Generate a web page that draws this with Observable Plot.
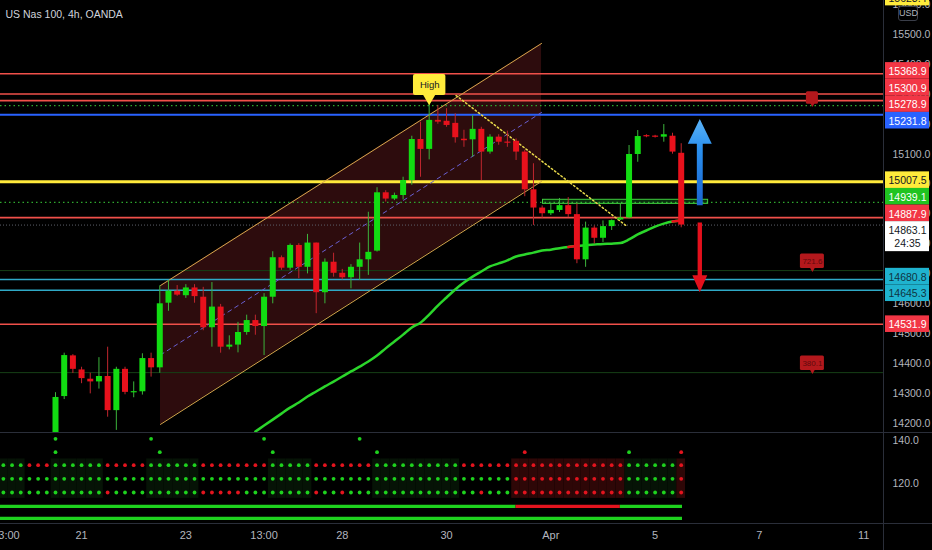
<!DOCTYPE html>
<html><head><meta charset="utf-8">
<script src="https://cdn.jsdelivr.net/npm/d3@7"></script>
<script src="https://cdn.jsdelivr.net/npm/@observablehq/plot@0.6"></script>
<style>
html,body{margin:0;padding:0;background:#000;}
#chart{position:relative;width:932px;height:550px;background:#000;overflow:hidden;}
#chart svg{position:absolute;display:block;max-width:none;}
.sep{position:absolute;background:#2a2e39;}
#usd{position:absolute;left:898px;top:6px;width:18px;height:13px;border:1px solid #3a3e49;border-radius:3px;color:#b2b5be;font:9px 'Liberation Sans',Arial,sans-serif;line-height:13px;text-align:center;background:#000;}
</style></head><body>
<div id="chart"></div>
<script>
// ---------------- data ----------------
const title = "US Nas 100, 4h, OANDA";
const opens = [14150,14290,14426,14379,14348,14339,14357,14243,14381,14303,
  14306,14417,14386,14602,14642,14627,14653,14622,14520,14589,
  14455,14462,14504,14544,14524,14622,14754,14719,14795,14722,
  14803,14637,14739,14702,14687,14722,14747,14776,14971,14950,
  14962,15012,15149,15116,15213,15210,15203,15150,15148,15183,
  15107,15157,15140,15143,15107,14981,14920,14901,14912,14928,
  14898,14747,14853,14819,14858,14880,14887,15099,15162,15160,
  15157,15160,15103];
const highs = [14303,14435,14430,14388,14368,14420,14455,14388,14388,14339,
  14433,14435,14660,14678,14661,14664,14664,14655,14671,14598,
  14493,14538,14562,14562,14634,14774,14760,14800,14801,14832,
  14803,14750,14769,14715,14731,14803,14906,14988,14978,14970,
  15023,15160,15207,15268,15263,15252,15235,15180,15229,15190,
  15165,15165,15177,15151,15113,15068,14927,14935,14952,14955,
  14934,14873,14860,14877,14880,14934,15129,15179,15165,15163,
  15199,15170,15135];
const lows = [14130,14280,14367,14333,14299,14315,14221,14177,14296,14286,
  14295,14355,14368,14575,14625,14618,14602,14510,14455,14435,
  14446,14436,14495,14495,14427,14600,14712,14712,14684,14700,
  14567,14600,14689,14680,14650,14678,14695,14773,14940,14945,
  14947,14996,15023,15081,15200,15190,15137,15123,15090,15012,
  15100,15130,15123,15079,14958,14862,14886,14895,14905,14888,
  14734,14722,14800,14805,14845,14878,14884,15073,15155,15154,
  15140,15100,14854];
const closes = [14287,14427,14381,14350,14339,14357,14243,14381,14304,14306,
  14417,14386,14600,14642,14629,14653,14624,14520,14589,14455,
  14462,14504,14544,14524,14622,14754,14719,14795,14722,14803,
  14637,14739,14702,14687,14722,14747,14772,14971,14950,14962,
  15012,15149,15116,15213,15207,15196,15155,15145,15183,15107,
  15157,15140,15137,15107,14981,14920,14901,14912,14928,14898,
  14747,14853,14819,14858,14878,14887,15099,15159,15158,15157,
  15165,15107,14863.1];

const maStart = 23;
const maValues = [14173,14193,14213,14233,14253,14270,14290,14307,14324,14340,
  14357,14374,14390,14407,14427,14451,14474,14497,14521,14537,
  14564,14594,14621,14648,14671,14691,14708,14725,14735,14745,
  14758,14765,14771,14778,14781,14786,14790,14793,14796,14798,
  14800,14801,14803,14815,14832,14845,14858,14868,14875,14878];
const maRedFrom = [59, 71];

const levelPrices = [15368.9,15300.9,15278.9,15262,15231.8,15007.5,14939.1,14887.9,14863.1,14711,14680.8,14645.3,14531.9,14370];
const levelKinds  = ["red","red","red","dotGreen","blue","yellow","dotGreen","red","last","faint","cyan","cyan","red","faint"];

const tagPrices = [15623.4,15368.9,15300.9,15278.9,15231.8,15007.5,14939.1,14887.9,14863.1,14680.8,14645.3,14531.9];
const tagKinds  = ["yellow","red","red","red","blue","yellow","green","red","last","cyan","cyan","red"];
const tagSub    = ["","","","","","","","","24:35","","",""];

const channelX = [12.08, 55.93];
const channelUpper = [14661, 15470];
const channelLower = [14197, 15009];

const trendX = [46.1, 65.8];
const trendY = [15296, 14858];

const zoneX = [56.1, 75.1];
const zoneY = [14934, 14947.6];

const arrowX = [74.14, 74.14];
const arrowFrom = [14929, 14872];
const arrowNeck = [15135, 14695];
const arrowTo = [15218, 14639];

const alertX = 87.1;
const alertPrices = [15262, 14711, 14370];
const alertTexts = ["", "721.6", "380.1"];

const yTicks = d3.range(14200, 15601, 100);
const xTickIdx = [-5.7, 3, 15, 24, 33, 45, 57, 69, 81, 93];
const xTickLabels = ["13:00","21","23","13:00","28","30","Apr","5","7","11"];

// indicator pane (bar index -6 .. 72), run-length color codes
const indStart = -6;
const row3Runs = [[3,"g"],[3,"r"],[6,"g"],[5,"r"],[6,"g"],[8,"r"],[5,"g"],[7,"r"],[10,"g"],[19,"r"],[6,"g"],[1,"r"]];
const row4Runs = [[59,"g"],[13,"r"],[6,"g"],[1,"r"]];
const row5Runs = [[12,"g"],[1,"r"],[10,"g"],[5,"r"],[8,"g"],[1,"r"],[2,"g"],[1,"r"],[15,"g"],[1,"r"],[3,"g"],[13,"r"],[6,"g"],[1,"r"]];
const row1Marks = [[0,"g"],[11,"g"],[24,"g"],[35,"g"]];
const row2Marks = [[0,"g"],[12,"g"],[25,"g"],[37,"g"],[54,"r"],[66,"g"],[72,"r"]];
const rowLevels = [140.8, 134.6, 128.6, 122.3, 116.0, 109.6, 104.1];
const line1Runs = [[-7,53,"g"],[53,65,"r"],[65,72.15,"g"]];
const line2Runs = [[-7,72.15,"g"]];
const indTicks = [140, 120];

// ---------------- styles ----------------
const FONT = "'Liberation Sans', Arial, Helvetica, sans-serif";
const W = 932, H1 = 432, H2 = 118, MR = 49;
const xDomain = [-6.329, 95.28];
const yDomain = [14169.9, 15613.6];
const indDomain = [101.7, 143.7];
const UP = "#12dc12", DN = "#e8111c", WUP = "#3cb43c", WDN = "#c0262e";
const DOT = {g: "#1ed21e", r: "#e3141e"};
const levelStyle = {
  red: {stroke: "#f0504a", strokeWidth: 1.6},
  dotGreen: {stroke: "#2fa82f", strokeWidth: 1.3, strokeDasharray: "1.5,3"},
  blue: {stroke: "#2962ff", strokeWidth: 2},
  yellow: {stroke: "#ffe93b", strokeWidth: 3},
  last: {stroke: "#5d606b", strokeWidth: 1, strokeDasharray: "1,2"},
  faint: {stroke: "#163f16", strokeWidth: 1},
  cyan: {stroke: "#2fa9c6", strokeWidth: 1.5}
};
const tagStyle = {
  yellow: {bg: "#ffeb3b", fg: "#131722"},
  red: {bg: "#f23645", fg: "#ffffff"},
  blue: {bg: "#2962ff", fg: "#ffffff"},
  green: {bg: "#20c420", fg: "#ffffff"},
  last: {bg: "#ffffff", fg: "#131722"},
  cyan: {bg: "#1fb3cf", fg: "#0f3442"}
};
const arrowStyle = [
  {shaft: 0.34, head: 1.38, fill: "url(#blueGrad)"},
  {shaft: 0.25, head: 0.86, fill: "#e3101c"}
];

// ---------------- derived tables ----------------
const candles = opens.map((o, i) => {
  const c = closes[i];
  let a = Math.min(o, c), b = Math.max(o, c);
  if (b - a < 4) { const m = (a + b) / 2; a = m - 2; b = m + 2; }
  return {i, o, h: highs[i], l: lows[i], c, up: c >= o, b1: a, b2: b};
});
const ma = maValues.map((v, k) => ({i: maStart + k, v}));
const maRed = maRedFrom.flatMap((s, k) => [ma[s - maStart], ma[s + 1 - maStart]].map(p => ({...p, seg: k})));
const levels = levelPrices.map((p, k) => ({price: p, kind: levelKinds[k]}));
const channel = channelX.map((x, k) => ({x, hi: channelUpper[k], lo: channelLower[k], mid: (channelUpper[k] + channelLower[k]) / 2}));
const trend = trendX.map((x, k) => ({x, y: trendY[k]}));
const zone = [{x1: zoneX[0], x2: zoneX[1], y1: zoneY[0], y2: zoneY[1]}];
const arrows = arrowX.flatMap((c, k) => {
  const s = arrowStyle[k], b = arrowFrom[k], n = arrowNeck[k], t = arrowTo[k];
  return [[c - s.shaft, b], [c - s.shaft, n], [c - s.head, n], [c, t], [c + s.head, n], [c + s.shaft, n], [c + s.shaft, b]]
    .map(([x, y]) => ({x, y, k}));
});
const hiIdx = d3.maxIndex(highs);
const hiPoint = [{i: hiIdx, h: highs[hiIdx]}];
const alerts = alertPrices.map((p, k) => ({x: alertX, p, t: alertTexts[k], small: alertTexts[k] === ""}));

function expand(runs) { const out = []; runs.forEach(([n, c]) => { for (let j = 0; j < n; j++) out.push(c); }); return out; }
const rows = [expand(row3Runs), expand(row4Runs), expand(row5Runs)];
const dots = [];
rows.forEach((r, k) => r.forEach((c, j) => dots.push({i: indStart + j, v: rowLevels[2 + k], c})));
row1Marks.forEach(([i, c]) => dots.push({i, v: rowLevels[0], c}));
row2Marks.forEach(([i, c]) => dots.push({i, v: rowLevels[1], c}));
const shade = rows[0].map((c, j) => ({i: indStart + j, kind: rows[1][j] === "r" ? "red" : (c === "g" ? "green" : "none")}))
  .filter(d => d.kind !== "none");
const indLines = [
  ...line1Runs.map(([a, b, c]) => ({a, b, c, v: rowLevels[5]})),
  ...line2Runs.map(([a, b, c]) => ({a, b, c, v: rowLevels[6]}))
];

// price tags with collision relaxation
const yScale = Plot.scale({y: {domain: yDomain, range: [H1, 0]}});
const tags = tagPrices.map((p, k) => ({
  p, kind: tagKinds[k],
  text: p.toFixed(1) + (tagSub[k] ? "\n" + tagSub[k] : ""),
  half: tagSub[k] ? 15 : 8.3,
  y: yScale.apply(p)
}));
const ord = tags.slice().sort((a, b) => a.y - b.y);
for (let it = 0; it < 400; it++) {
  for (let k = 0; k < ord.length - 1; k++) {
    const a = ord[k], b = ord[k + 1];
    const ov = (a.y + a.half) - (b.y - b.half);
    if (ov > 0.01) { a.y -= ov / 2; b.y += ov / 2; }
  }
}
tags.forEach(t => { t.adj = yScale.invert(t.y); });

// ---------------- main pane ----------------
const container = document.getElementById("chart");
const mainMarks = [
  Plot.areaY(channel, {x: "x", y1: "lo", y2: "hi", fill: "#2d0c0d"}),
  ...Object.keys(levelStyle).map(k => Plot.ruleY(levels.filter(d => d.kind === k), {y: "price", ...levelStyle[k]})),
  Plot.line(channel, {x: "x", y: "hi", stroke: "#d6a64c", strokeWidth: 1}),
  Plot.line(channel, {x: "x", y: "lo", stroke: "#d6a64c", strokeWidth: 1}),
  Plot.line(channel, {x: "x", y: "mid", stroke: "#6a5fd0", strokeWidth: 1, strokeDasharray: "4,4"}),
  Plot.rect(zone, {x1: "x1", x2: "x2", y1: "y1", y2: "y2", fill: "#2ecc40", fillOpacity: 0.22, stroke: "#3fd13f", strokeWidth: 1}),
  Plot.line(trend, {x: "x", y: "y", stroke: "#e8d84a", strokeWidth: 1.5, strokeDasharray: "1.5,2.5"}),
  Plot.line(ma, {x: "i", y: "v", stroke: "#2bd62b", strokeWidth: 2.5, curve: "monotone-x"}),
  Plot.line(maRed, {x: "i", y: "v", z: "seg", stroke: "#e8111c", strokeWidth: 2.5}),
  Plot.ruleX(candles, {x: "i", y1: "l", y2: "h", stroke: d => d.up ? WUP : WDN, strokeWidth: 1}),
  Plot.ruleX(candles, {x: "i", y1: "b1", y2: "b2", stroke: d => d.up ? UP : DN, strokeWidth: 6}),
  Plot.line(arrows.filter(d => d.k === 0), {x: "x", y: "y", fill: arrowStyle[0].fill, stroke: "none"}),
  Plot.line(arrows.filter(d => d.k === 1), {x: "x", y: "y", fill: arrowStyle[1].fill, stroke: "none"}),
  Plot.rect(hiPoint, {x1: "i", x2: "i", y1: "h", y2: "h", insetLeft: -15.7, insetRight: -16.7, insetTop: -29.3, insetBottom: 8.3, fill: "#ffeb3b", rx: 2}),
  Plot.dot(hiPoint, {x: "i", y: "h", symbol: "triangle", rotate: 180, r: 5, dy: -6.4, fill: "#ffeb3b", stroke: "none"}),
  Plot.text(hiPoint, {x: "i", y: "h", text: () => "High", dx: 0.5, dy: -18.6, fill: "#131722", fontSize: 9.5}),
  Plot.rect(alerts.filter(d => d.small), {x1: "x", x2: "x", y1: "p", y2: "p", insetLeft: -6, insetRight: -6, insetTop: -14, insetBottom: 1.5, fill: "#b3181c", rx: 1.5}),
  Plot.rect(alerts.filter(d => !d.small), {x1: "x", x2: "x", y1: "p", y2: "p", insetLeft: -12, insetRight: -12, insetTop: -16.5, insetBottom: 2, fill: "#b3181c", rx: 1.5}),
  Plot.dot(alerts, {x: "x", y: "p", symbol: "triangle", rotate: 180, r: 2, dy: -1.8, fill: "#b3181c", stroke: "none"}),
  Plot.text(alerts.filter(d => !d.small), {x: "x", y: "p", text: "t", dy: -9.2, fill: "#5e0a0c", fontSize: 8}),
  Plot.axisY({anchor: "right", ticks: yTicks, tickSize: 0, tickPadding: 9, tickFormat: d => d.toFixed(1), label: null, fill: "#b2b5be", fontSize: 10.5}),
  Plot.text([title], {frameAnchor: "top-left", text: d => d, dx: 5, dy: 14, lineAnchor: "middle", textAnchor: "start", fill: "#d1d4dc", fontSize: 10.5})
];
const mainSvg = Plot.plot({
  width: W, height: H1, marginLeft: 0, marginRight: MR, marginTop: 0, marginBottom: 0,
  style: {background: "transparent", fontFamily: FONT, color: "#b2b5be", overflow: "hidden"},
  x: {domain: xDomain, axis: null},
  y: {domain: yDomain},
  marks: mainMarks
});
const NS = "http://www.w3.org/2000/svg";
const defs = document.createElementNS(NS, "defs");
const grad = document.createElementNS(NS, "linearGradient");
grad.setAttribute("id", "blueGrad"); grad.setAttribute("x1", "0"); grad.setAttribute("y1", "0"); grad.setAttribute("x2", "0"); grad.setAttribute("y2", "1");
[["0", "#5cb3f7"], ["0.35", "#2a90ee"], ["1", "#1a63d0"]].forEach(([o, c]) => {
  const s = document.createElementNS(NS, "stop"); s.setAttribute("offset", o); s.setAttribute("stop-color", c); grad.appendChild(s);
});
defs.appendChild(grad); mainSvg.prepend(defs);
mainSvg.style.left = "0px"; mainSvg.style.top = "0px";
container.appendChild(mainSvg);

// ---------------- price tags (right scale) ----------------
const tagSvg = Plot.plot({
  width: MR, height: H1, marginLeft: 0, marginRight: 0, marginTop: 0, marginBottom: 0,
  style: {background: "transparent", fontFamily: FONT, overflow: "hidden"},
  x: {domain: [0, MR], range: [0, MR], axis: null},
  y: {domain: yDomain, axis: null},
  marks: [
    Plot.rect(tags.filter(d => d.half < 10), {x1: () => 2, x2: () => 46, y1: "adj", y2: "adj", insetTop: -8.3, insetBottom: -8.3, fill: d => tagStyle[d.kind].bg}),
    Plot.rect(tags.filter(d => d.half >= 10), {x1: () => 2, x2: () => 46, y1: "adj", y2: "adj", insetTop: -15, insetBottom: -15, fill: d => tagStyle[d.kind].bg}),
    Plot.text(tags, {x: () => 24, y: "adj", text: "text", fill: d => tagStyle[d.kind].fg, fontSize: 10.5, lineHeight: 1.25, lineAnchor: "middle"})
  ]
});
tagSvg.style.left = (W - MR) + "px"; tagSvg.style.top = "0px";
container.appendChild(tagSvg);

// ---------------- indicator pane + time axis ----------------
const indSvg = Plot.plot({
  width: W, height: H2, marginLeft: 0, marginRight: MR, marginTop: 0, marginBottom: 27,
  style: {background: "transparent", fontFamily: FONT, color: "#b2b5be", overflow: "hidden"},
  x: {domain: xDomain},
  y: {domain: indDomain},
  marks: [
    Plot.rect(shade.filter(d => d.kind === "green"), {x1: d => d.i - 0.5, x2: d => d.i + 0.5, y1: 113.3, y2: 131.5, fill: "#061306"}),
    Plot.rect(shade.filter(d => d.kind === "red"), {x1: d => d.i - 0.5, x2: d => d.i + 0.5, y1: 113.3, y2: 131.5, fill: "#2e0707"}),
    Plot.dot(dots, {x: "i", y: "v", r: 1.9, fill: d => DOT[d.c], stroke: "none"}),
    Plot.ruleY(indLines, {y: "v", x1: "a", x2: "b", stroke: d => DOT[d.c], strokeWidth: 3.2}),
    Plot.axisY({anchor: "right", ticks: indTicks, tickSize: 0, tickPadding: 9, tickFormat: d => d.toFixed(1), label: null, fill: "#b2b5be", fontSize: 10.5}),
    Plot.axisX({anchor: "bottom", ticks: xTickIdx, tickSize: 0, tickPadding: 8, tickFormat: d => xTickLabels[xTickIdx.indexOf(d)], label: null, fill: "#b2b5be", fontSize: 11})
  ]
});
indSvg.style.left = "0px"; indSvg.style.top = H1 + "px";
container.appendChild(indSvg);

// ---------------- pane separators ----------------
[[0, H1, W, 1], [0, 523, W, 1], [W - MR, 0, 1, 550]].forEach(([l, t, w, h]) => {
  const d = document.createElement("div"); d.className = "sep";
  Object.assign(d.style, {left: l + "px", top: t + "px", width: w + "px", height: h + "px"});
  container.appendChild(d);
});
const usd = document.createElement("div"); usd.id = "usd"; usd.textContent = "USD"; container.appendChild(usd);
</script></body></html>
